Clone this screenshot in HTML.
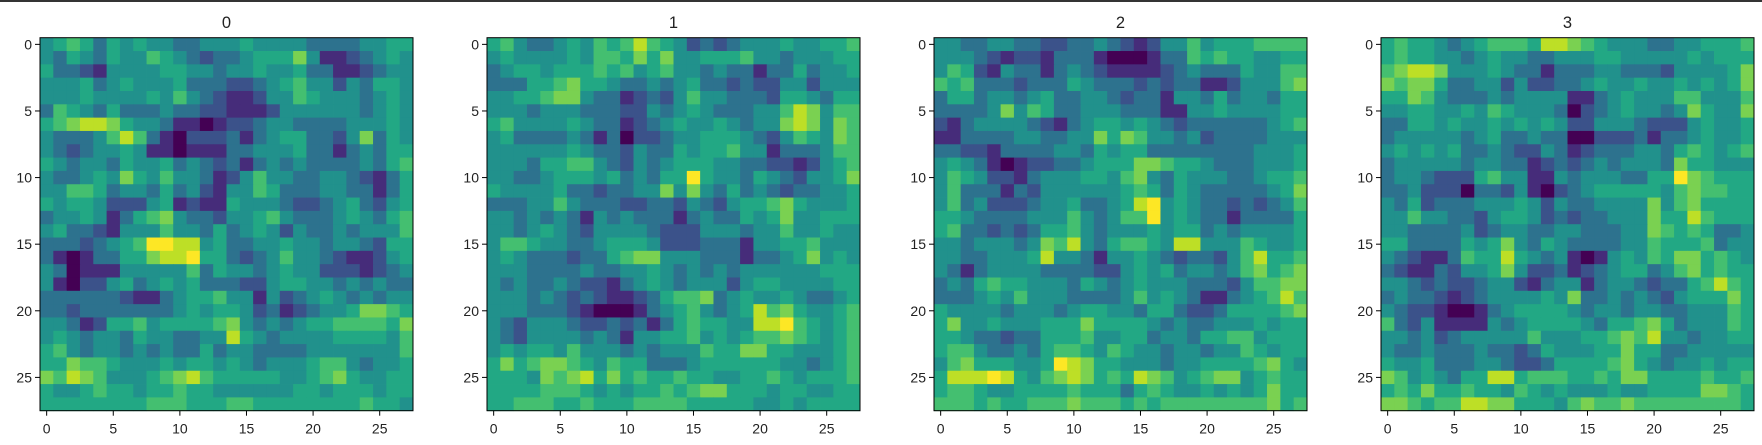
<!DOCTYPE html>
<html><head><meta charset="utf-8">
<style>
html,body{margin:0;padding:0;background:#fff;}
body{width:1762px;height:445px;overflow:hidden;position:relative;font-family:"Liberation Sans","DejaVu Sans",sans-serif;}
#topbar{position:absolute;left:0;top:0;width:1762px;height:2px;background:#343434;}
svg{position:absolute;left:0;top:0;}
</style></head>
<body>
<div id="topbar"></div>
<svg id="fig" width="1762" height="445"></svg>
<script>
const panelTitles = ["0","1","2","3"];
const tickValues = [0,5,10,15,20,25];
const tickLabels = ["0","5","10","15","20","25"];
const grid0 = [
"4565354544334445444433334455","4354354465432334555741123454","5332144445544344544533112344","4445345444533322345644243554",
"4445444454643211244654443454","3654353334332211124444443454","5678875443110122344333344454","4333468631022231345533247354",
"4323445411011133444533134355","5434435445343231343433334356","4334547546443124644334432135","4466534435342144653334433135",
"5455422245121154443223453245","3445413567433244564333454356","4533214446443534542433434446","3332345699884533445443443255",
"3101335578895532346443211245","4301114444463544345442221234","4102245345453332245544343433","3333332113455644142345434344",
"3323333333454554231234457765","4431255645555674343455666657","4543443544334485434444555546","5643443434335344333344444446",
"5576654445455454344456643445","7687644456786555554456754455","5445655455655444444554555455","5555555566655566555555556554"];
const grid1 = [
"5643345465686542323444544556","4544445466575744555644344455","3455455565645644343313353445","3335567554334345332322442444",
"4455677433123246443332554355","4443444333224345433344687466","5644445433123454454344787476","4533334313022344555432465476",
"4444445433243354556441333466","4443556643243455544332212456","4433455545343559544354324457","5444453323344747435343233445",
"3334464333223324324556754445","4434343143433313433545744555","4434543244443222444344644544","4665443345554222333144556444",
"4543332335677444333133457454","4443333433445434343444444555","4343343221345434442455444455","4443432321123566734544543345",
"4443332100013456434586754456","4324443223231356554488965456","4324444343144556454566765456","4545546444343444655775544456",
"5756776546553334555555443456","5554767857565565544556545556","5555666545455656775554554455","5566655655566665555544545555"];
const grid2 = [
"4433443322334321244645556666","4443212213331000133656554455","4652143313432111123433354466","6563332333543332323311244467",
"3553443453344323314435344355","3333474653344433311445444455","2134444321345545432333333456","1133334433447576443423333444",
"3322133334435455333333334445","4543101223345557765543334445","4654221344455467435444334556","4633313244444456535433333457",
"4634222344533458945433232346","5543333444643466945433133335","5633232355643444545534344445","4434443476843566548844465445",
"4433444584431445432332468556","4313444433332245453443467567","3435655444354345444333246677","3334546444333346454311345686",
"5444434443455443553223555567","5744544455575555434334445455","5543323355564455344355664555","5664334356654654434434465455",
"4675554459875544434455556754","5888985467875658764567745655","5665445555655535654454545755","6665655666766656566666666756"];
const grid3 = [
"5655434566658876544433445556","5655443454433444554444454555","6788744454331333443332444457","7677533442422334544544545457",
"5576433343444411345444664446","4455445465444302345443475447","3355454454545422444322245445","3444443453343300222313345445",
"4545453343224312333443565456","3444443443312323434443755444","3443222564411434443355976555","3342220332410234555554676655",
"4352333444542433444474675555","4464433245542323344475586555","4433334234433443334476565334","5533335457435433334465556344",
"4321136558543410145465775654","3211324457422312345534675655","4432322344213441344323356865","3433212344445473343432455575",
"4322100134555543443443344465","6324111143455554355675344465","4434234444464445567684434455","4334333433235444557553344444",
"5445333443223555567543445455","7645435588566655657755556556","5657556554654544454455557765","7765668877555467667666666665"];
const grids = [grid0, grid1, grid2, grid3];

const NS = "http://www.w3.org/2000/svg";
const svg = document.getElementById("fig");
const N = 28;
const panelLeft0 = 40, panelStep = 447, panelTop = 37.7, panelSize = 373;
const cell = panelSize / N;
const stops = ["#440154","#482475","#414487","#355f8d","#2a788e","#21918c","#22a884","#44bf70","#7ad151","#bddf26","#fde725"];
function hex(h){return [parseInt(h.substr(1,2),16),parseInt(h.substr(3,2),16),parseInt(h.substr(5,2),16)];}
function viridis(t){
  t=Math.max(0,Math.min(1,t));
  const p=t*10, i=Math.min(9,Math.floor(p)), f=p-i;
  const a=hex(stops[i]), b=hex(stops[i+1]);
  return "rgb("+a.map((v,k)=>Math.round(v+(b[k]-v)*f)).join(",")+")";
}
function levelToT(d){ return d <= 4 ? d * 0.125 : 0.5 + (d - 4) * 0.1; }
function mk(tag, attrs){const e=document.createElementNS(NS,tag);for(const k in attrs)e.setAttribute(k,attrs[k]);return e;}
function xScale(p, c){return panelLeft0 + p*panelStep + c*cell;}
function yScale(r){return panelTop + r*cell;}

grids.forEach((g, p) => {
  const grp = mk("g", {});
  
  
  svg.appendChild(grp);
  for (let r = 0; r < N; r++) {
    const row = (g[r] || "").padEnd(N, "4");
    for (let c = 0; c < N; c++) {
      const v = parseInt(row[c], 10);
      const rect = mk("rect", {x: xScale(p, c).toFixed(2), y: yScale(r).toFixed(2), width: (cell + 0.4).toFixed(2), height: (cell + 0.4).toFixed(2), fill: viridis(levelToT(v))});
      
      
      grp.appendChild(rect);
    }
  }
  const L = xScale(p, 0), T = yScale(0), R = xScale(p, N), B = yScale(N);
  const frame = mk("rect", {x: L, y: T, width: R - L, height: B - T, fill: "none", stroke: "#000", "stroke-width": 1});
  
  
  grp.appendChild(frame);
  const title = mk("text", {x: (L + R) / 2, y: 28, "text-anchor": "middle", "font-size": 16.5, fill: "#222"});
  title.textContent = panelTitles[p];
  
  
  grp.appendChild(title);
  tickValues.forEach((tv, i) => {
    const cx = xScale(p, tv + 0.5), cy = yScale(tv + 0.5);
    const xt = mk("line", {x1: cx, x2: cx, y1: B, y2: B + 5, stroke: "#000", "stroke-width": 1});
    
    
    grp.appendChild(xt);
    const xl = mk("text", {x: cx, y: B + 23, "text-anchor": "middle", "font-size": 14, fill: "#222"});
    xl.textContent = tickLabels[i];
    
    
    grp.appendChild(xl);
    const yt = mk("line", {x1: L - 5, x2: L, y1: cy, y2: cy, stroke: "#000", "stroke-width": 1});
    
    
    grp.appendChild(yt);
    const yl = mk("text", {x: L - 8, y: cy + 5, "text-anchor": "end", "font-size": 14, fill: "#222"});
    yl.textContent = tickLabels[i];
    
    
    grp.appendChild(yl);
  });
});
</script>
</body></html>
